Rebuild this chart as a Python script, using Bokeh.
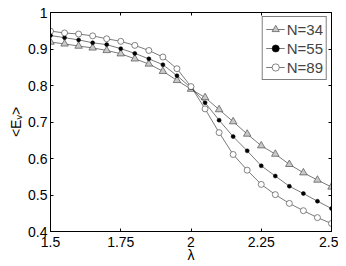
from bokeh.plotting import figure
from bokeh.models import Range1d, LinearAxis, FixedTicker, Legend, LegendItem, ColumnDataSource
from bokeh.embed import file_html
from bokeh.resources import INLINE

lam = [1.5, 1.55, 1.6, 1.65, 1.7, 1.75, 1.8, 1.85, 1.9, 1.95, 2.0,
       2.05, 2.1, 2.15, 2.2, 2.25, 2.3, 2.35, 2.4, 2.45, 2.5]
n34 = [0.919, 0.914, 0.908, 0.903, 0.896, 0.887, 0.873, 0.859, 0.839, 0.814, 0.790,
       0.767, 0.734, 0.701, 0.667, 0.635, 0.612, 0.584, 0.561, 0.541, 0.522]
n55 = [0.937, 0.931, 0.925, 0.917, 0.912, 0.901, 0.888, 0.873, 0.857, 0.827, 0.794,
       0.753, 0.705, 0.660, 0.621, 0.580, 0.552, 0.524, 0.504, 0.483, 0.463]
n89 = [0.949, 0.944, 0.941, 0.936, 0.928, 0.921, 0.910, 0.896, 0.878, 0.846, 0.797,
       0.736, 0.671, 0.611, 0.568, 0.529, 0.501, 0.477, 0.457, 0.438, 0.422]
labels = ["N=34", "N=55", "N=89"]
x_ticks = [1.5, 1.75, 2.0, 2.25, 2.5]
y_ticks = [0.4, 0.5, 0.6, 0.7, 0.8, 0.9, 1.0]

FONT = "Liberation Sans"
LINE = "#404040"

p = figure(frame_width=281, frame_height=219, output_backend="svg", toolbar_location=None,
           x_range=Range1d(1.5, 2.5), y_range=Range1d(0.4, 1.0),
           min_border_left=50, min_border_right=7, min_border_top=12, min_border_bottom=20)
p.grid.visible = False
p.outline_line_color = "black"
p.outline_line_width = 1
p.background_fill_color = "white"
p.border_fill_color = "white"

for ax in (p.xaxis[0], p.yaxis[0]):
    ax.major_tick_in = 3
    ax.major_tick_out = 0
    ax.minor_tick_line_color = None
    ax.axis_line_color = "black"
    ax.major_tick_line_color = "black"
    ax.major_label_text_font = FONT
    ax.major_label_text_font_size = "14px"
    ax.major_label_text_color = "black"
    ax.axis_label_text_font = FONT
    ax.axis_label_text_font_size = "14px"
    ax.axis_label_text_font_style = "normal"
    ax.axis_label_text_color = "black"

p.xaxis[0].ticker = FixedTicker(ticks=x_ticks)
p.xaxis[0].major_label_overrides = {1.5: "1.5", 1.75: "1.75", 2.0: "2", 2.25: "2.25", 2.5: "2.5"}
p.xaxis[0].major_label_standoff = 5
p.xaxis[0].axis_label = "λ"
p.xaxis[0].axis_label_standoff = -3
p.yaxis[0].ticker = FixedTicker(ticks=y_ticks)
p.yaxis[0].major_label_overrides = {1.0: "1"}
p.yaxis[0].major_label_standoff = 3
p.yaxis[0].axis_label = "<Eᵥ>"
p.yaxis[0].axis_label_standoff = 1

top = LinearAxis(ticker=FixedTicker(ticks=x_ticks), major_tick_in=3, major_tick_out=0,
                 minor_tick_line_color=None, major_label_standoff=0,
                 major_label_overrides={t: "" for t in x_ticks})
right = LinearAxis(ticker=FixedTicker(ticks=y_ticks), major_tick_in=3, major_tick_out=0,
                   minor_tick_line_color=None, major_label_standoff=0,
                   major_label_overrides={t: "" for t in y_ticks})
p.add_layout(top, "above")
p.add_layout(right, "right")

src = ColumnDataSource(dict(x=lam, a=n34, b=n55, c=n89))
l1 = p.line("x", "a", source=src, line_color=LINE, line_width=0.7)
m1 = p.scatter("x", "a", source=src, marker="triangle", size=7.5, fill_color="#c8c8c8",
               line_color="#505050", line_width=0.7)
l2 = p.line("x", "b", source=src, line_color=LINE, line_width=0.7)
m2 = p.scatter("x", "b", source=src, marker="circle", size=4, fill_color="black",
               line_color="black", line_width=0.5)
l3 = p.line("x", "c", source=src, line_color=LINE, line_width=0.7)
m3 = p.scatter("x", "c", source=src, marker="circle", size=6, fill_color="white",
               line_color="#505050", line_width=0.7)

legend = Legend(items=[LegendItem(label=labels[0], renderers=[l1, m1]),
                       LegendItem(label=labels[1], renderers=[l2, m2]),
                       LegendItem(label=labels[2], renderers=[l3, m3])],
                location="top_right", margin=4, padding=3, spacing=1,
                label_text_font=FONT, label_text_font_size="15px",
                label_height=18, glyph_height=18, glyph_width=19, label_standoff=2,
                border_line_color="black", border_line_width=1,
                background_fill_color="white", background_fill_alpha=1.0)
p.add_layout(legend, "center")

open("out.html", "w").write(file_html(p, INLINE))
